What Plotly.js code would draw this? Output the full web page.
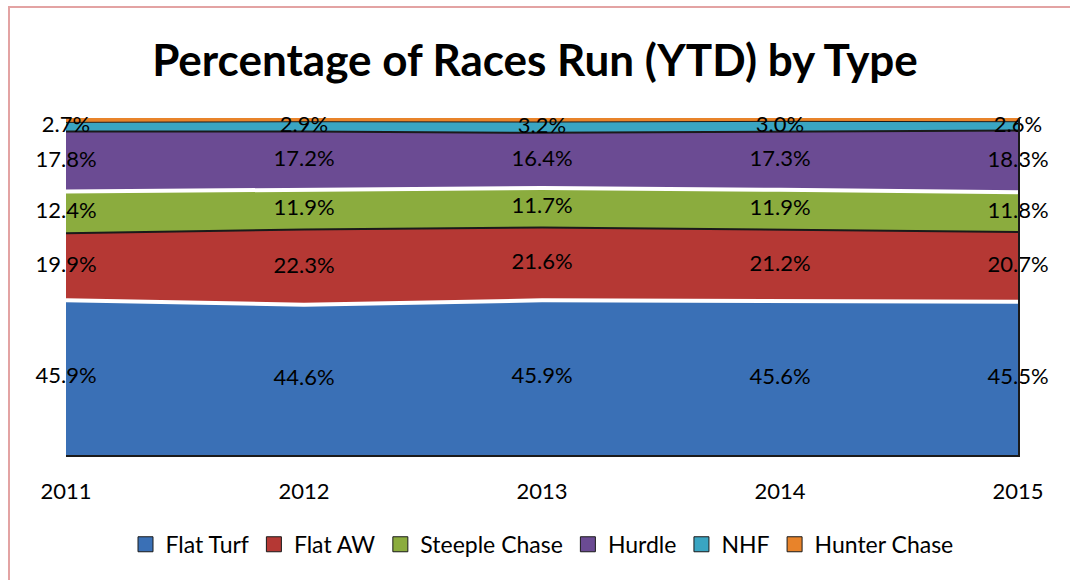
<!DOCTYPE html>
<html>
<head>
<meta charset="utf-8">
<script src="https://cdn.plot.ly/plotly-3.0.1.min.js"></script>
<style>
  html, body { margin: 0; padding: 0; background: #fff; }
  #wrap { position: relative; width: 1070px; height: 580px; overflow: hidden; }
  #chart { position: absolute; left: 0; top: 0; width: 1070px; height: 580px; }
  #frame { position: absolute; left: 8px; top: 6px; width: 1100px; height: 600px;
           border-left: 2px solid #e3a3a3; border-top: 2px solid #e3a3a3; pointer-events: none; }
</style>
</head>
<body>
<div id="wrap">
  <div id="chart"></div>
  <div id="frame"></div>
</div>
<script>
const years = ['2011', '2012', '2013', '2014', '2015'];
const flatTurf     = [45.9, 44.6, 45.9, 45.6, 45.5];
const flatAW       = [19.9, 22.3, 21.6, 21.2, 20.7];
const steepleChase = [12.4, 11.9, 11.7, 11.9, 11.8];
const hurdle       = [17.8, 17.2, 16.4, 17.3, 18.3];
const nhf          = [2.7, 2.9, 3.2, 3.0, 2.6];
const hunterChase  = [1.3, 1.1, 1.2, 1.0, 1.1];

const series = [
  { name: 'Flat Turf',     values: flatTurf,     fill: '#3a70b6', line: { color: '#ffffff', width: 4 }, label: true },
  { name: 'Flat AW',       values: flatAW,       fill: '#b53834', line: { color: '#1a1a1a', width: 2 }, label: true },
  { name: 'Steeple Chase', values: steepleChase, fill: '#8bac3e', line: { color: '#ffffff', width: 4 }, label: true },
  { name: 'Hurdle',        values: hurdle,       fill: '#6b4b93', line: { color: '#1a1a1a', width: 2 }, label: true },
  { name: 'NHF',           values: nhf,          fill: '#3aa5c2', line: { color: '#1a1a1a', width: 1 }, label: true },
  { name: 'Hunter Chase',  values: hunterChase,  fill: '#e8832a', line: { color: '#e8832a', width: 1 }, label: false }
];

const font = 'Lato, "Open Sans", sans-serif';
const traces = [];
series.forEach(s => {
  traces.push({
    type: 'scatter', mode: 'lines', x: years, y: s.values, name: s.name,
    stackgroup: 'one', fillcolor: s.fill, line: s.line,
    hoverinfo: 'skip', showlegend: false
  });
});

// label positions: middle of each band
const base = years.map(() => 0);
series.forEach(s => {
  const mids = s.values.map((v, i) => base[i] + v / 2);
  s.values.forEach((v, i) => { base[i] += v; });
  if (!s.label) return;
  traces.push({
    type: 'scatter', mode: 'text', x: years, y: mids,
    text: s.values.map(v => v.toFixed(1) + '%'),
    textposition: 'middle center',
    textfont: { family: font, size: 22, color: '#000' },
    showlegend: false, hoverinfo: 'skip', cliponaxis: false
  });
});

// legend-only entries with square swatches
series.forEach(s => {
  traces.push({
    type: 'scatter', mode: 'markers', x: [null], y: [null], name: s.name,
    marker: { symbol: 'square', size: 15, color: s.fill, line: { color: '#1a1a1a', width: 1 } },
    hoverinfo: 'skip', showlegend: true
  });
});

const layout = {
  width: 1070, height: 580,
  margin: { l: 66, r: 52, t: 118, b: 125 },
  paper_bgcolor: '#ffffff', plot_bgcolor: '#ffffff',
  font: { family: font, color: '#000' },
  title: { text: '<b>Percentage of Races Run (YTD) by Type</b>',
           font: { family: font, size: 44, color: '#000' },
           x: 0.5, xanchor: 'center', y: 0.895, yanchor: 'middle' },
  xaxis: { type: 'category', range: [0, 4], showgrid: false, zeroline: false,
           showline: true, linecolor: '#1a1a1a', linewidth: 2,
           ticks: '', ticklabelstandoff: 16,
           tickfont: { family: font, size: 22, color: '#000' } },
  yaxis: { range: [0, 100], showgrid: false, zeroline: false, showticklabels: false,
           showline: true, side: 'right', linecolor: '#1a1a1a', linewidth: 2, ticks: '' },
  showlegend: true,
  legend: { orientation: 'h', x: 0.5, xanchor: 'center', y: -0.265, yanchor: 'middle',
            traceorder: 'normal', font: { family: font, size: 23, color: '#000' },
            itemwidth: 30 },
  hovermode: false
};

Plotly.newPlot('chart', traces, layout, { displayModeBar: false, staticPlot: true });
</script>
</body>
</html>
